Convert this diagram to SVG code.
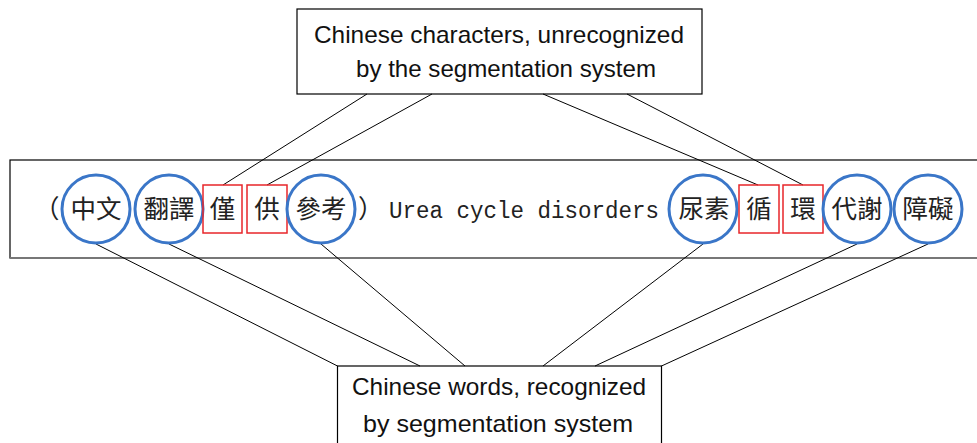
<svg xmlns="http://www.w3.org/2000/svg" width="977" height="443" viewBox="0 0 977 443">
<style>
.box{fill:#fff;stroke:#000;stroke-width:1.2}
.lbl{font-family:"Liberation Sans",Arial,sans-serif;font-size:24px;fill:#111;text-anchor:middle}
.cjk{font-family:"Noto Sans CJK TC","Noto Sans CJK SC",sans-serif;font-size:25.5px;fill:#222;text-anchor:middle}
.mono{font-family:"Liberation Mono","Courier New",monospace;font-size:23.5px;fill:#222}
.word{fill:none;stroke:#3a76c8;stroke-width:3}
.ch{fill:none;stroke:#e8262a;stroke-width:1.5}
.conn line{stroke:#000;stroke-width:1}
</style>
<rect width="977" height="443" fill="#fff"/>
<g id="sentence">
<rect x="10" y="160" width="1000" height="98" class="box"/>
<line x1="10" y1="258" x2="977" y2="258" stroke="#777" stroke-width="2"/>
<text x="34" y="218" class="cjk" style="text-anchor:start">（</text>
<text x="358" y="218" class="cjk" style="text-anchor:start">）</text>
<text x="389" y="218" class="mono" textLength="270" lengthAdjust="spacingAndGlyphs">Urea cycle disorders</text>
</g>
<g id="top-label">
<rect x="297" y="9" width="405" height="85" class="box"/>
<text x="499" y="43" class="lbl" textLength="370" lengthAdjust="spacingAndGlyphs">Chinese characters, unrecognized</text>
<text x="506" y="77" class="lbl" textLength="300" lengthAdjust="spacingAndGlyphs">by the segmentation system</text>
</g>
<g id="bottom-label">
<rect x="337.5" y="366" width="324" height="100" class="box"/>
<text x="499" y="395" class="lbl" textLength="294" lengthAdjust="spacingAndGlyphs">Chinese words, recognized</text>
<text x="498" y="432" class="lbl" textLength="270" lengthAdjust="spacingAndGlyphs">by segmentation system</text>
</g>
<g class="conn" id="connectors">
<line x1="367" y1="94" x2="223" y2="185"/>
<line x1="432" y1="94" x2="267" y2="185"/>
<line x1="543" y1="94" x2="758" y2="185"/>
<line x1="627" y1="94" x2="803" y2="185"/>
<line x1="96" y1="244" x2="337.5" y2="366"/>
<line x1="169" y1="244" x2="420" y2="366"/>
<line x1="321" y1="244" x2="465" y2="366"/>
<line x1="703" y1="244" x2="543" y2="366"/>
<line x1="857" y1="244" x2="595" y2="366"/>
<line x1="928" y1="244" x2="661.5" y2="366"/>
</g>
<g id="w-zhongwen"><circle cx="96" cy="209" r="34" class="word"/><text x="96" y="218" class="cjk">中文</text></g>
<g id="w-fanyi"><circle cx="169" cy="209" r="34" class="word"/><text x="169" y="218" class="cjk">翻譯</text></g>
<g id="c-jin"><rect x="203" y="185" width="39" height="48" class="ch"/><text x="222.5" y="218" class="cjk">僅</text></g>
<g id="c-gong"><rect x="247" y="185" width="40" height="48" class="ch"/><text x="267" y="218" class="cjk">供</text></g>
<g id="w-cankao"><circle cx="321" cy="209" r="34" class="word"/><text x="321" y="218" class="cjk">參考</text></g>
<g id="w-niaosu"><circle cx="703" cy="209" r="34" class="word"/><text x="704" y="218" class="cjk">尿素</text></g>
<g id="c-xun"><rect x="739" y="185" width="40" height="48" class="ch"/><text x="759" y="218" class="cjk">循</text></g>
<g id="c-huan"><rect x="783" y="185" width="40" height="48" class="ch"/><text x="803" y="218" class="cjk">環</text></g>
<g id="w-daixie"><circle cx="857" cy="209" r="34" class="word"/><text x="857" y="218" class="cjk">代謝</text></g>
<g id="w-zhangai"><circle cx="928" cy="209" r="34" class="word"/><text x="928" y="218" class="cjk">障礙</text></g>
</svg>
